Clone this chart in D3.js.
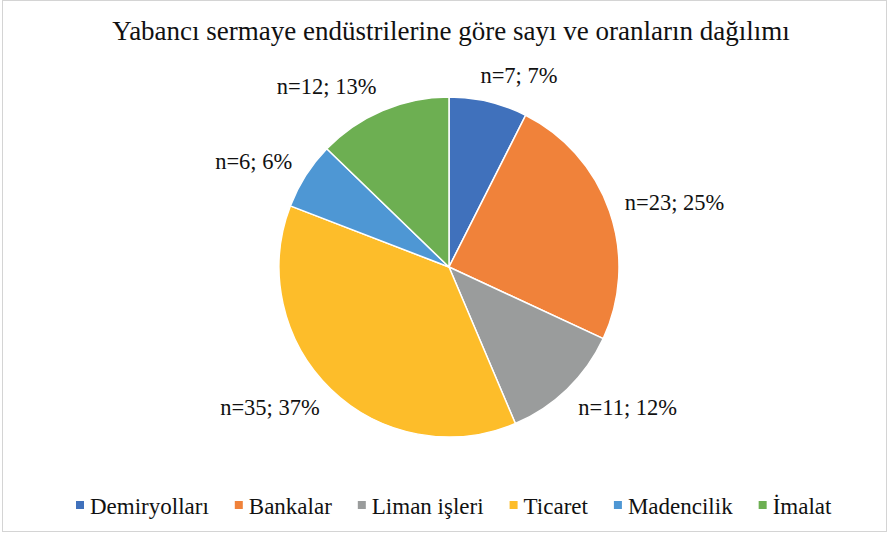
<!DOCTYPE html>
<html>
<head>
<meta charset="utf-8">
<script src="https://cdn.jsdelivr.net/npm/d3@7.9.0/dist/d3.min.js"></script>
<style>
  body { margin: 0; background: #fff; }
</style>
</head>
<body>
<svg width="894" height="539"></svg>
<script>
// data
const categories = ['Demiryolları', 'Bankalar', 'Liman işleri', 'Ticaret', 'Madencilik', 'İmalat'];
const counts = [7, 23, 11, 35, 6, 12];
const percents = [7, 25, 12, 37, 6, 13];
const colors = ['#4071BC', '#F0823A', '#9A9C9C', '#FDBD2A', '#4E97D4', '#6DAF52'];

const title = 'Yabancı sermaye endüstrilerine göre sayı ve oranların dağılımı';
const FONT = 'Liberation Serif';

const svg = d3.select('svg');
const cx = 449, cy = 267, radius = 170;

// outer frame
svg.append('rect')
    .attr('x', 2.5).attr('y', 0.5)
    .attr('width', 884).attr('height', 531)
    .attr('fill', '#fff')
    .attr('stroke', '#d4d4d4');

svg.append('text')
    .attr('x', 451).attr('y', 40)
    .attr('text-anchor', 'middle')
    .attr('font-family', FONT)
    .attr('font-size', 27)
    .attr('fill', '#111')
    .text(title);

const data = categories.map((c, i) => ({ label: c, value: counts[i], pct: percents[i], color: colors[i] }));

const pie = d3.pie().sort(null).value(d => d.value);
const arc = d3.arc().innerRadius(0).outerRadius(radius);
const arcs = pie(data);

const g = svg.append('g').attr('transform', `translate(${cx},${cy})`);

g.selectAll('path')
    .data(arcs)
    .join('path')
    .attr('d', arc)
    .attr('fill', d => d.data.color)
    .attr('stroke', '#fff')
    .attr('stroke-width', 1.5);

// labels outside, box pushed out to the side of the slice
g.selectAll('text.lbl')
    .data(arcs)
    .join('text')
    .attr('class', 'lbl')
    .attr('font-family', FONT)
    .attr('font-size', 22.5)
    .attr('fill', '#111')
    .attr('text-anchor', 'middle')
    .text(d => `n=${d.data.value}; ${d.data.pct}%`)
    .each(function (d) {
        const a = (d.startAngle + d.endAngle) / 2;
        const w = this.getComputedTextLength();
        const p = d3.pointRadial(a, radius + 16);
        const side = Math.max(-1, Math.min(1, Math.sin(a) * 3));
        const x = p[0] + side * w / 2;
        const y = p[1] - Math.cos(a) * 10;
        d3.select(this).attr('x', x).attr('y', y + 7);
    });

// legend
const legend = svg.append('g').attr('transform', 'translate(0,506)');
let xPos = 76;
data.forEach(d => {
    const item = legend.append('g').attr('transform', `translate(${xPos},0)`);
    item.append('rect')
        .attr('x', 0).attr('y', -5)
        .attr('width', 8).attr('height', 8)
        .attr('fill', d.color);
    const t = item.append('text')
        .attr('x', 14).attr('y', 8)
        .attr('font-family', FONT)
        .attr('font-size', 23)
        .attr('fill', '#111')
        .text(d.label);
    xPos += 14 + t.node().getComputedTextLength() + 26;
});
</script>
</body>
</html>
